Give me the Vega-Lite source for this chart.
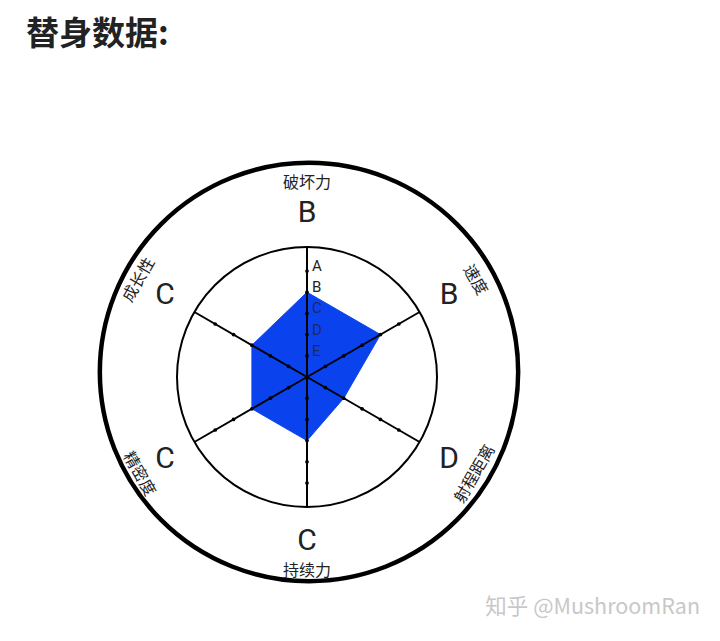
{
  "$schema": "https://vega.github.io/schema/vega-lite/v6.json",
  "width": 720,
  "height": 581,
  "autosize": {"type": "none"},
  "padding": {"left": 0, "right": 0, "top": 60, "bottom": 0},
  "background": "white",
  "title": {
    "text": "替身数据:",
    "anchor": "start",
    "frame": "group",
    "dx": 26,
    "dy": 33,
    "offset": 15,
    "baseline": "alphabetic",
    "font": "Noto Sans CJK SC",
    "fontSize": 33,
    "fontWeight": "bold",
    "color": "#222222"
  },
  "datasets": {
    "stats": [
      {"order": 0, "axis": "破坏力", "grade": "B", "score": 4, "levels": [1, 2, 3, 4, 5]},
      {"order": 1, "axis": "速度", "grade": "B", "score": 4, "levels": [1, 2, 3, 4, 5]},
      {"order": 2, "axis": "射程距离", "grade": "D", "score": 2, "levels": [1, 2, 3, 4, 5]},
      {"order": 3, "axis": "持续力", "grade": "C", "score": 3, "levels": [1, 2, 3, 4, 5]},
      {"order": 4, "axis": "精密度", "grade": "C", "score": 3, "levels": [1, 2, 3, 4, 5]},
      {"order": 5, "axis": "成长性", "grade": "C", "score": 3, "levels": [1, 2, 3, 4, 5]}
    ],
    "grades": [
      {"level": 5, "letter": "A"},
      {"level": 4, "letter": "B"},
      {"level": 3, "letter": "C"},
      {"level": 2, "letter": "D"},
      {"level": 1, "letter": "E"}
    ]
  },
  "encoding": {
    "x": {"field": "px", "type": "quantitative", "scale": {"domain": [-307, 413], "nice": false, "zero": false}, "axis": null},
    "y": {"field": "py", "type": "quantitative", "scale": {"domain": [-264, 317], "nice": false, "zero": false}, "axis": null}
  },
  "layer": [
    {
      "data": {"values": [{"ring": "outer"}]},
      "transform": [
        {"calculate": "2", "as": "px"},
        {"calculate": "5", "as": "py"}
      ],
      "mark": {"type": "point", "shape": "circle", "filled": false, "stroke": "black", "strokeWidth": 4.5, "size": 175000, "opacity": 1}
    },
    {
      "data": {"values": [{"ring": "inner"}]},
      "transform": [
        {"calculate": "0", "as": "px"},
        {"calculate": "0", "as": "py"}
      ],
      "mark": {"type": "point", "shape": "circle", "filled": false, "stroke": "black", "strokeWidth": 2, "size": 67600, "opacity": 1}
    },
    {
      "data": {"name": "stats"},
      "transform": [
        {"calculate": "datum.order * PI / 3", "as": "a"},
        {"calculate": "datum.score * 21.2 * sin(datum.a)", "as": "px"},
        {"calculate": "datum.score * 21.2 * cos(datum.a)", "as": "py"}
      ],
      "mark": {"type": "line", "interpolate": "linear-closed", "fill": "#0a43ee", "stroke": "#0a43ee", "strokeWidth": 1},
      "encoding": {"order": {"field": "order", "type": "quantitative"}}
    },
    {
      "data": {"name": "stats"},
      "transform": [
        {"calculate": "datum.order * PI / 3", "as": "a"},
        {"calculate": "0", "as": "px"},
        {"calculate": "0", "as": "py"},
        {"calculate": "130 * sin(datum.a)", "as": "ex"},
        {"calculate": "130 * cos(datum.a)", "as": "ey"}
      ],
      "mark": {"type": "rule", "color": "black", "strokeWidth": 2},
      "encoding": {
        "x2": {"field": "ex"},
        "y2": {"field": "ey"}
      }
    },
    {
      "data": {"name": "stats"},
      "transform": [
        {"flatten": ["levels"], "as": ["level"]},
        {"calculate": "datum.order * PI / 3", "as": "a"},
        {"calculate": "datum.level * 21.2 * sin(datum.a)", "as": "px"},
        {"calculate": "datum.level * 21.2 * cos(datum.a)", "as": "py"}
      ],
      "mark": {"type": "point", "shape": "circle", "filled": true, "color": "black", "size": 14, "opacity": 1}
    },
    {
      "data": {"name": "grades"},
      "transform": [
        {"calculate": "0", "as": "px"},
        {"calculate": "datum.level * 21.2", "as": "py"}
      ],
      "mark": {"type": "text", "align": "left", "baseline": "alphabetic", "dx": 5, "font": "Roboto", "fontSize": 15, "fill": "#222222"},
      "encoding": {
        "text": {"field": "letter"},
        "opacity": {"condition": {"test": "datum.level <= 3", "value": 0.7}, "value": 1}
      }
    },
    {
      "data": {"name": "stats"},
      "transform": [
        {"calculate": "datum.order * PI / 3", "as": "a"},
        {"calculate": "164 * sin(datum.a)", "as": "px"},
        {"calculate": "164 * cos(datum.a)", "as": "py"}
      ],
      "mark": {"type": "text", "align": "center", "baseline": "middle", "font": "Roboto", "fontSize": 30, "fill": "#222222"},
      "encoding": {"text": {"field": "grade"}}
    },
    {
      "data": {"name": "stats"},
      "transform": [
        {"calculate": "datum.order * 60", "as": "deg"},
        {"calculate": "datum.order * PI / 3", "as": "a"},
        {"calculate": "194 * sin(datum.a)", "as": "px"},
        {"calculate": "194 * cos(datum.a)", "as": "py"},
        {"calculate": "datum.deg > 90 && datum.deg < 270 ? datum.deg - 180 : datum.deg", "as": "rot"}
      ],
      "mark": {"type": "text", "align": "center", "baseline": "middle", "font": "Noto Sans CJK SC", "fontSize": 16, "fill": "#222222"},
      "encoding": {
        "text": {"field": "axis"},
        "angle": {"field": "rot", "type": "quantitative", "scale": null}
      }
    },
    {
      "data": {"values": [{"mark": "知乎 @MushroomRan"}]},
      "transform": [
        {"calculate": "393", "as": "px"},
        {"calculate": "-231", "as": "py"}
      ],
      "mark": {"type": "text", "align": "right", "baseline": "middle", "font": "Noto Sans CJK SC", "fontSize": 21.5, "fill": "#c8c8c8"},
      "encoding": {"text": {"field": "mark"}}
    }
  ],
  "config": {
    "view": {"stroke": null}
  }
}
